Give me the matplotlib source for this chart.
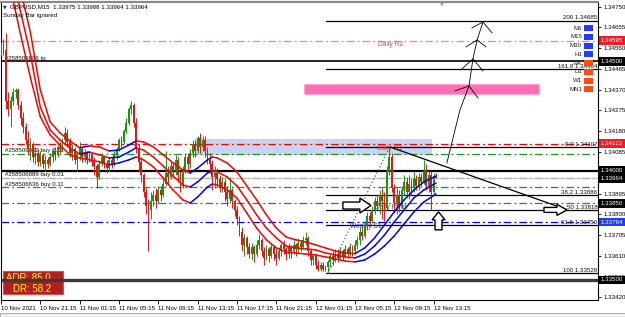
import numpy as np
import matplotlib
matplotlib.use("Agg")
import matplotlib.pyplot as plt
import matplotlib.transforms as mtransforms
from matplotlib.collections import LineCollection
from matplotlib.patches import Rectangle, Polygon

FIG_W, FIG_H, DPI = 625, 317, 100
PX_PER_BAR = 2.458
PX_PER_PRICE = 21850.0
FS = 4.4  # small MT4-like label size

plt.rcParams['font.family'] = ['Liberation Sans', 'DejaVu Sans']
plt.rcParams['lines.scale_dashes'] = False

# ---- GBPUSD M15 candles, 10 Nov 17:15 -> 12 Nov 13:30 ----
first_open = 1.3455
closes = np.array([
    1.3457, 1.3455, 1.3432, 1.3428, 1.3432, 1.3436, 1.3437, 1.3430, 1.3424, 1.3420,
    1.3414, 1.3410, 1.3412, 1.3406, 1.3408, 1.3404, 1.3407, 1.3403, 1.3405, 1.3403,
    1.3406, 1.3409, 1.3407, 1.3411, 1.3410, 1.3414, 1.3417, 1.3413, 1.3408, 1.3410,
    1.3405, 1.3407, 1.3410, 1.3406, 1.3408, 1.3405, 1.3407, 1.3404, 1.3402, 1.3397,
    1.3403, 1.3406, 1.3403, 1.3401, 1.3405, 1.3403, 1.3407, 1.3410, 1.3414, 1.3413,
    1.3418, 1.3422, 1.3428, 1.3430, 1.3422, 1.3410, 1.3404, 1.3398, 1.3390, 1.3384,
    1.3382, 1.3386, 1.3389, 1.3386, 1.3391, 1.3389, 1.3394, 1.3399, 1.3397, 1.3402,
    1.3400, 1.3405, 1.3398, 1.3393, 1.3400, 1.3406, 1.3403, 1.3408, 1.3412, 1.3409,
    1.3415, 1.3411, 1.3414, 1.3409, 1.3405, 1.3403, 1.3397, 1.3399, 1.3396, 1.3392,
    1.3395, 1.3390, 1.3387, 1.3391, 1.3386, 1.3382, 1.3378, 1.3372, 1.3366, 1.3369,
    1.3365, 1.3362, 1.3365, 1.3362, 1.3366, 1.3368, 1.3363, 1.3360, 1.3364, 1.3361,
    1.3365, 1.3362, 1.3360, 1.3363, 1.3366, 1.3364, 1.3362, 1.3365, 1.3363, 1.3366,
    1.3364, 1.3367, 1.3365, 1.3368, 1.3369, 1.3363, 1.3359, 1.3361, 1.3357, 1.3355,
    1.3357, 1.3355, 1.3356, 1.3358, 1.3361, 1.3359, 1.3362, 1.3360, 1.3363, 1.3361,
    1.3364, 1.3362, 1.3365, 1.3363, 1.3366, 1.3368, 1.3372, 1.3370, 1.3375, 1.3379,
    1.3377, 1.3382, 1.3386, 1.3384, 1.3389, 1.3386, 1.3383, 1.3400, 1.3406, 1.3392,
    1.3385, 1.3389, 1.3384, 1.3391, 1.3395, 1.3390, 1.3394, 1.3392, 1.3396, 1.3393,
    1.3397, 1.3395, 1.3400, 1.3393, 1.3398, 1.3390, 1.33975, 1.33964,
])
highs = np.array([
    1.3459, 1.3460, 1.3463, 1.3436, 1.3434, 1.3438, 1.3438, 1.3438, 1.3432, 1.3427,
    1.3422, 1.3418, 1.3415, 1.3413, 1.3411, 1.3410, 1.3409, 1.3408, 1.3407, 1.3406,
    1.3408, 1.3410, 1.3411, 1.3412, 1.3413, 1.3415, 1.3420, 1.3419, 1.3415, 1.3412,
    1.3411, 1.3409, 1.3413, 1.3411, 1.3410, 1.3409, 1.3409, 1.3408, 1.3406, 1.3403,
    1.3405, 1.3408, 1.3407, 1.3405, 1.3406, 1.3406, 1.3409, 1.3411, 1.3415, 1.3416,
    1.3419, 1.3424, 1.3429, 1.3432, 1.3431, 1.3424, 1.3412, 1.3406, 1.3399, 1.3392,
    1.3387, 1.3390, 1.3391, 1.3392, 1.3393, 1.3393, 1.3396, 1.3409, 1.3402, 1.3404,
    1.3404, 1.3407, 1.3406, 1.3400, 1.3402, 1.3408, 1.3408, 1.3410, 1.3414, 1.3414,
    1.3416, 1.3417, 1.3416, 1.3416, 1.3411, 1.3408, 1.3405, 1.3402, 1.3401, 1.3398,
    1.3397, 1.3396, 1.3393, 1.3397, 1.3392, 1.3387, 1.3384, 1.3379, 1.3374, 1.3371,
    1.3370, 1.3367, 1.3367, 1.3366, 1.3368, 1.3371, 1.3369, 1.3365, 1.3366, 1.3365,
    1.3367, 1.3366, 1.3364, 1.3365, 1.3367, 1.3368, 1.3365, 1.3367, 1.3366, 1.3368,
    1.3367, 1.3369, 1.3368, 1.3370, 1.3372, 1.3370, 1.3364, 1.3362, 1.3362, 1.3359,
    1.3358, 1.3358, 1.3357, 1.3359, 1.3362, 1.3363, 1.3364, 1.3364, 1.3365, 1.3364,
    1.3366, 1.3365, 1.3367, 1.3366, 1.3368, 1.3370, 1.3374, 1.3375, 1.3377, 1.3381,
    1.3381, 1.3384, 1.3388, 1.3389, 1.3391, 1.3392, 1.3390, 1.3402, 1.34107, 1.3408,
    1.3394, 1.3392, 1.3391, 1.3393, 1.3398, 1.3397, 1.3398, 1.3396, 1.3400, 1.3398,
    1.3399, 1.3399, 1.3405, 1.3403, 1.3400, 1.3400, 1.3399, 1.33988,
])
lows = np.array([
    1.3453, 1.3453, 1.3428, 1.3425, 1.3420, 1.3430, 1.3433, 1.3428, 1.3421, 1.3417,
    1.3412, 1.3407, 1.3405, 1.3404, 1.3403, 1.3402, 1.3402, 1.3401, 1.3400, 1.3401,
    1.3402, 1.3404, 1.3405, 1.3406, 1.3408, 1.3409, 1.3412, 1.3411, 1.3406, 1.3405,
    1.3403, 1.3400, 1.3405, 1.3404, 1.3404, 1.3403, 1.3404, 1.3402, 1.3398, 1.3392,
    1.3396, 1.3402, 1.3401, 1.3399, 1.3400, 1.3401, 1.3402, 1.3405, 1.3409, 1.3411,
    1.3412, 1.3417, 1.3421, 1.3426, 1.3420, 1.3408, 1.3400, 1.3395, 1.3388, 1.3380,
    1.3363, 1.3378, 1.3384, 1.3383, 1.3385, 1.3386, 1.3388, 1.3393, 1.3394, 1.3396,
    1.3397, 1.3398, 1.3395, 1.3390, 1.3392, 1.3399, 1.3400, 1.3401, 1.3406, 1.3406,
    1.3408, 1.3408, 1.3409, 1.3406, 1.3403, 1.3399, 1.3391, 1.3392, 1.3393, 1.3390,
    1.3390, 1.3386, 1.3384, 1.3385, 1.3383, 1.3379, 1.3375, 1.3370, 1.3363, 1.3361,
    1.3362, 1.3360, 1.3359, 1.3358, 1.3361, 1.3364, 1.3361, 1.3357, 1.3359, 1.3358,
    1.3360, 1.3359, 1.3357, 1.3359, 1.3361, 1.3362, 1.3359, 1.3360, 1.3360, 1.3362,
    1.3361, 1.3362, 1.3363, 1.3364, 1.3366, 1.3361, 1.3357, 1.3357, 1.3355, 1.3354,
    1.3354, 1.3354, 1.3354, 1.33529, 1.3356, 1.3357, 1.3358, 1.3358, 1.3359, 1.3359,
    1.3360, 1.3360, 1.3361, 1.3361, 1.3362, 1.3364, 1.3366, 1.3368, 1.3369, 1.3373,
    1.3375, 1.3376, 1.3380, 1.3382, 1.3380, 1.3378, 1.3377, 1.3382, 1.3398, 1.3390,
    1.3382, 1.3380, 1.3381, 1.3383, 1.3389, 1.3388, 1.3387, 1.3389, 1.3390, 1.3391,
    1.3391, 1.3393, 1.3394, 1.3391, 1.3390, 1.3382, 1.3389, 1.33964,
])
opens = np.concatenate([[first_open], closes[:-1]])
bars = np.arange(len(closes))

# ---- moving-average channel, read at every few bars ----
ma_bars = [0, 4, 8, 12, 16, 20, 24, 28, 32, 36, 40, 44, 48, 52, 55, 58, 62, 66, 70, 74,
           77, 80, 84, 86, 88, 92, 96, 100, 104, 108, 112, 116, 120, 124, 128, 132, 136,
           140, 144, 148, 152, 156, 160, 164, 168, 172, 177]
ma_lower = [1.35028, 1.34827, 1.34621, 1.34424, 1.34246, 1.34163, 1.34117, 1.34072, 1.34058, 1.34049,
            1.34040, 1.34026, 1.34035, 1.34049, 1.34062, 1.34049, 1.34017, 1.33966, 1.33911, 1.33866,
            1.33852, 1.33879, 1.33925, 1.33939, 1.33934, 1.33911, 1.33875, 1.33806, 1.33737, 1.33683,
            1.33646, 1.33628, 1.33623, 1.33618, 1.33614, 1.33605, 1.33596, 1.33586, 1.33582, 1.33591,
            1.33618, 1.33655, 1.33701, 1.33756, 1.33811, 1.33856, 1.33893]
ma_mid = [1.35124, 1.34927, 1.34726, 1.34529, 1.34291, 1.34186, 1.34140, 1.34104, 1.34076, 1.34085,
          1.34072, 1.34058, 1.34062, 1.34085, 1.34104, 1.34094, 1.34062, 1.34021, 1.33975, 1.33934,
          1.33925, 1.33948, 1.33989, 1.33998, 1.33994, 1.33971, 1.33930, 1.33866, 1.33797, 1.33737,
          1.33692, 1.33655, 1.33646, 1.33642, 1.33637, 1.33623, 1.33614, 1.33605, 1.33600, 1.33618,
          1.33655, 1.33705, 1.33765, 1.33820, 1.33875, 1.33911, 1.33943]
ma_upper = [1.35234, 1.35033, 1.34827, 1.34630, 1.34369, 1.34223, 1.34172, 1.34136, 1.34104, 1.34113,
            1.34108, 1.34090, 1.34094, 1.34117, 1.34136, 1.34131, 1.34108, 1.34072, 1.34035, 1.34003,
            1.33989, 1.34012, 1.34049, 1.34062, 1.34058, 1.34035, 1.33994, 1.33930, 1.33866, 1.33797,
            1.33737, 1.33696, 1.33683, 1.33673, 1.33660, 1.33646, 1.33632, 1.33623, 1.33620, 1.33646,
            1.33692, 1.33751, 1.33811, 1.33866, 1.33911, 1.33948, 1.33975]

# ---- axis labels ----
time_label_bars = [0, 16, 32, 48, 64, 80, 96, 112, 128, 144, 160, 176]
time_labels = ["10 Nov 2021", "10 Nov 21:15", "11 Nov 01:15", "11 Nov 05:15",
               "11 Nov 09:15", "11 Nov 13:15", "11 Nov 17:15", "11 Nov 21:15",
               "12 Nov 01:15", "12 Nov 05:15", "12 Nov 09:15", "12 Nov 13:15"]
price_ticks = [1.34750, 1.34655, 1.34560, 1.34465, 1.34370, 1.34275, 1.34180, 1.34085,
               1.33990, 1.33895, 1.33800, 1.33705, 1.33610, 1.33515, 1.33420]
hidden_ticks = [1.33990]  # covered by the 1.34000 / 1.33964 boxes

# ---- horizontal objects: level, colour, style, width ----
h_levels = [1.34595, 1.34500, 1.34123, 1.34078, 1.34000, 1.33967, 1.33964, 1.33924, 1.33850, 1.33764, 1.33500]
h_colors = ['#ff7f7f', 'black', '#ff0000', '#1e961e', 'black', '#1e961e', '#c0c0c0', '#1e961e', '#606060', '#0000ff', '#3a3a3a']
h_styles = ['dd', '-', 'dd', 'dd', '-', 'dd', '-', 'dd', 'dd', 'dd', '-']
h_widths = [0.9, 1.2, 0.9, 0.9, 1.6, 0.9, 0.6, 0.9, 0.9, 0.9, 2.4]
order_levels = [1.34500, 1.34078, 1.33967, 1.33924]
order_labels = ["#258506886 tp", "#258509002 buy 0.11", "#258506889 buy 0.01", "#258506636 buy 0.11"]

pivot_levels = [1.34595, 1.34123, 1.33850, 1.33764]
pivot_labels = ["Daily R2", "Daily R1", "Daily Pivot", "Weekly S1"]
pivot_colors = ['#ff4040', '#ff3030', '#505050', '#2040ff']
pivot_label_bars = [153.4, 153.0, 152.2, 142.0]

fib_start_bar = 132.2
fib_levels = [1.34685, 1.34464, 1.34107, 1.33886, 1.33818, 1.33750, 1.33529]
fib_labels = ["200 1.34685", "161.8 1.34464", "0.0 1.34107", "38.2 1.33886",
              "50 1.33818", "61.8 1.33750", "100 1.33529"]

price_boxes = [1.34595, 1.34500, 1.34123, 1.34000, 1.33964, 1.33850, 1.33764, 1.33500]
price_box_colors = ['#ee1c24', 'black', '#ee1c24', 'black', 'black', 'black', '#1e3cff', 'black']

tf_names = ["M5", "M15", "M30", "H1", "H4", "D1", "W1", "MN1"]
tf_colors = ['#1f3cff'] * 4 + ['#ff4a14'] * 4

X_MIN, X_MAX = 0.0, (598 - 1) / PX_PER_BAR
Y_MAX = 1.34750 + (6.7 - 2) / PX_PER_PRICE
Y_MIN = 1.34750 - (300 - 6.7) / PX_PER_PRICE
DASHDOT = (0, (5.5, 2.2, 1.4, 2.2))


def fxy(px, py):
    return px / FIG_W, 1 - py / FIG_H


fig = plt.figure(figsize=(FIG_W / DPI, FIG_H / DPI), dpi=DPI)
fig.patch.set_facecolor('white')
ax = fig.add_axes([1 / FIG_W, 1 - 300 / FIG_H, (598 - 1) / FIG_W, (300 - 2) / FIG_H])
ax.set_xlim(X_MIN, X_MAX)
ax.set_ylim(Y_MIN, Y_MAX)

# zones
ax.add_patch(Rectangle((78.9, 1.34072), 175.3 - 78.9, 1.34145 - 1.34072,
                       facecolor='#c9d3f2', edgecolor='none', zorder=0.5))
ax.add_patch(Rectangle((123.3, 1.34351), 218.9 - 123.3, 1.34397 - 1.34351,
                       facecolor='#ff6eb4', edgecolor='#ffa6d2', lw=0.8, zorder=1))

# horizontal lines
for lvl, col, sty, lw in zip(h_levels, h_colors, h_styles, h_widths):
    ls = DASHDOT if sty == 'dd' else '-'
    ax.axhline(lvl, color=col, ls=ls, lw=lw, zorder=2)
for lvl, txt in zip(order_levels, order_labels):
    ax.text(1.6, lvl + 0.00003, txt, fontsize=FS, color='#111111', va='bottom', zorder=2)
for lvl, txt, col, b in zip(pivot_levels, pivot_labels, pivot_colors, pivot_label_bars):
    ax.text(b, lvl - 0.00004, txt, fontsize=4.8, color=col, va='top', zorder=2)

# fibonacci
for lvl, txt in zip(fib_levels, fib_labels):
    ax.plot([fib_start_bar, X_MAX], [lvl, lvl], color='black', lw=0.9, zorder=2)
    ax.text(X_MAX - 0.3, lvl + 0.00003, txt, fontsize=FS, color='#111111',
            ha='right', va='bottom', zorder=2)
ax.plot([133, 158], [1.33529, 1.34107], color='#606060', ls=(0, (1, 1.5)), lw=0.8, zorder=2)

# ADR box (under the 1.33500 line)
ax.add_patch(Rectangle(fxy(3, 294), 60 / FIG_W, 23 / FIG_H, transform=fig.transFigure,
                       facecolor='#b11f1f', edgecolor='#d85050', lw=0.8, zorder=1.5, clip_on=False))
ax.text(*fxy(6, 278), "ADR: 85.0", transform=fig.transFigure, fontsize=7, color='#ffff00',
        va='center', zorder=1.6)
ax.text(*fxy(13, 288.5), "DR: 58.2", transform=fig.transFigure, fontsize=7, color='#ffff00',
        va='center', zorder=1.6)

# candles
up = closes >= opens
cols = np.where(up, '#119911', '#ee1111')
ax.vlines(bars, lows, highs, colors=cols, lw=0.7, zorder=3)
body_lo = np.minimum(opens, closes)
body_h = np.maximum(np.abs(closes - opens), 0.00002)
ax.bar(bars, body_h, bottom=body_lo, width=0.75, color=cols, lw=0, zorder=3)

# MA channel coloured by slope
for vals in (ma_lower, ma_mid, ma_upper):
    pts = np.column_stack([ma_bars, vals])
    segs = np.stack([pts[:-1], pts[1:]], axis=1)
    seg_cols = np.where(np.diff(vals) > 0, '#0000ff', '#ff0000')
    ax.add_collection(LineCollection(segs, colors=seg_cols, linewidths=1.1,
                                     capstyle='round', zorder=4))

# trend line and hand drawn path
ax.plot([158.3, 229.5], [1.34108, 1.33824], color='black', lw=0.9, zorder=5)
path_x = [181.4, 186.7, 190.4, 192.0, 193.7, 196.1]
path_y = [1.34035, 1.34277, 1.34387, 1.34511, 1.34598, 1.34680]
ax.plot(path_x, path_y, color='black', lw=0.6, zorder=5)
heads = [((184.7, 1.34365), (190.4, 1.34387), (194.1, 1.34332)),
         ((187.1, 1.34461), (192.0, 1.34511), (196.1, 1.34456)),
         ((189.2, 1.34566), (193.7, 1.34598), (197.3, 1.34566)),
         ((191.6, 1.34653), (196.1, 1.34680), (199.8, 1.34630))]
for h in heads:
    ax.plot([p[0] for p in h], [p[1] for p in h], color='black', lw=0.6, zorder=5)

# hollow block arrows (shape given in pixels around an anchor)
arrows = [
    ((139.1, 1.33840), [(0, -3.5), (17, -3.5), (17, -7.5), (28, 0), (17, 7.5), (17, 3.5), (0, 3.5)]),
    ((220.9, 1.33820), [(0, -2.5), (13, -2.5), (13, -5.5), (23, 0), (13, 5.5), (13, 2.5), (0, 2.5)]),
    ((178.0, 1.33811), [(0, 0), (6.5, -8), (3.5, -8), (3.5, -18), (-3.5, -18), (-3.5, -8), (-6.5, -8)]),
]
for (ax_x, ax_y), shape in arrows:
    trans = fig.dpi_scale_trans + mtransforms.ScaledTranslation(ax_x, ax_y, ax.transData)
    verts = [(dx / DPI, dy / DPI) for dx, dy in shape]
    ax.add_patch(Polygon(verts, closed=True, transform=trans, facecolor='white',
                         edgecolor='black', lw=1.0, zorder=6))

# timeframe panel
for k, (name, col) in enumerate(zip(tf_names, tf_colors)):
    py = 28.3 + 8.7 * k
    ax.add_patch(Rectangle(fxy(584, py + 3), 9 / FIG_W, 6 / FIG_H, transform=fig.transFigure,
                           facecolor=col, edgecolor='none', zorder=6))
    ax.text(*fxy(582, py), name, transform=fig.transFigure, fontsize=FS, color='#222222',
            ha='right', va='center', zorder=6)

# axes styling
for side in ('left', 'bottom', 'right'):
    ax.spines[side].set_color('black')
    ax.spines[side].set_linewidth(0.8)
ax.spines['top'].set_color('#8a8a8a')
ax.spines['top'].set_linewidth(1.6)

ax.yaxis.tick_right()
ax.set_yticks(price_ticks)
ax.set_yticklabels(["" if v in hidden_ticks else f"{v:.5f}" for v in price_ticks])
ax.tick_params(axis='y', length=2.5, width=0.6, pad=1.2, labelsize=FS, colors='black')
ax.set_xticks(time_label_bars)
ax.set_xticklabels(time_labels)
ax.tick_params(axis='x', length=3, width=0.6, pad=1.5, labelsize=FS)
for lbl in ax.get_xticklabels():
    lbl.set_ha('left')

# price boxes on the right scale
box_trans = mtransforms.blended_transform_factory(fig.transFigure, ax.transData)
box_h = 8.5 / PX_PER_PRICE
for lvl, col in zip(price_boxes, price_box_colors):
    ax.add_patch(Rectangle((599 / FIG_W, lvl - box_h / 2), 26 / FIG_W, box_h, transform=box_trans,
                           facecolor=col, edgecolor='none', zorder=10, clip_on=False))
    ax.text(601 / FIG_W, lvl, f"{lvl:.5f}", transform=box_trans, fontsize=FS, color='white',
            va='center', ha='left', zorder=11, clip_on=False)

# window texts
fig.text(*fxy(3, 6.5), "\u25bc", fontsize=3.5, family='DejaVu Sans', va='center', color='#333333')
fig.text(*fxy(10, 6.5), "GBPUSD,M15  1.33975 1.33988 1.33964 1.33964", fontsize=FS, va='center')
fig.text(*fxy(3, 15), "Sunday Bar ignored", fontsize=FS, va='center')
fig.text(*fxy(442, 3.5), "\u25bc", fontsize=3.5, family='DejaVu Sans', va='center',
         ha='center', color='#a0a0a0')
fig.patches.append(Rectangle(fxy(0, 317), 1, 4.5 / FIG_H, transform=fig.transFigure,
                             facecolor='#f0f0f0', edgecolor='#a0a0a0', lw=0.6))

fig.savefig("out.png", dpi=DPI)
